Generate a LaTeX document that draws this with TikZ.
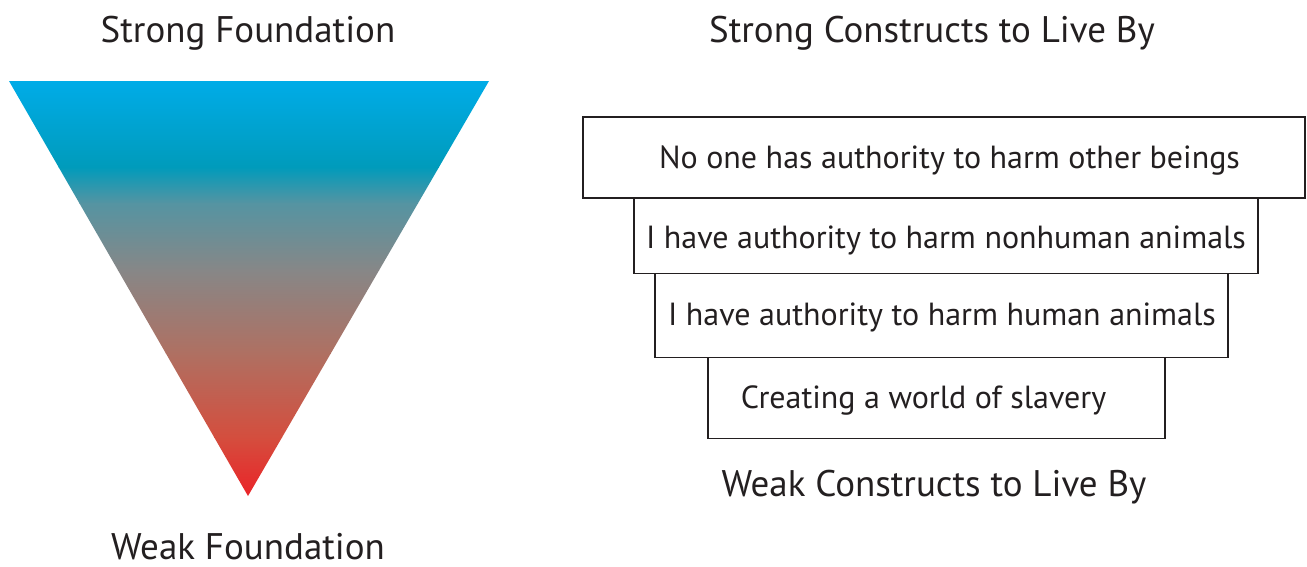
\documentclass[tikz,border=0pt]{standalone}
\usepackage{fontspec}
\setmainfont{PT Sans}
\definecolor{ink}{RGB}{35,31,32}
\definecolor{g0}{RGB}{0,172,232}
\definecolor{g1}{RGB}{0,155,187}
\definecolor{g2}{RGB}{85,148,162}
\definecolor{g3}{RGB}{135,135,135}
\definecolor{g4}{RGB}{175,112,98}
\definecolor{g5}{RGB}{212,78,62}
\definecolor{g6}{RGB}{235,35,40}
\tikzset{
  title/.style={font=\fontsize{37}{42}\selectfont, text=ink, inner sep=0pt, anchor=base},
  boxtext/.style={font=\fontsize{32}{36}\selectfont, text=ink, inner sep=0pt, anchor=base},
  stepbox/.style={draw=ink, line width=1.3pt, rectangle, inner sep=0pt},
}
\begin{document}
\begin{tikzpicture}[x=1pt,y=-1pt]
\useasboundingbox (0,0) rectangle (1307,566);
% triangle with gradient
\begin{scope}
\clip (9,81) -- (489,81) -- (248,496) -- cycle;
\shade[top color=g0,bottom color=g1] (0,80) rectangle (500,167.5);
\shade[top color=g1,bottom color=g2] (0,167) rectangle (500,203.5);
\shade[top color=g2,bottom color=g3] (0,203) rectangle (500,270.5);
\shade[top color=g3,bottom color=g4] (0,270) rectangle (500,353.5);
\shade[top color=g4,bottom color=g5] (0,353) rectangle (500,437.5);
\shade[top color=g5,bottom color=g6] (0,437) rectangle (500,497);
\end{scope}
\node[title] (sf) at (248,42) {Strong Foundation};
\node[title, text depth=0pt] (wf) at (248,559) {Weak Foundation};
\node[title] (sc) at (932,42) {Strong Constructs to Live By};
\node[title] (wc) at (934,496) {Weak Constructs to Live By};
% boxes
\node[stepbox, minimum width=722pt, minimum height=81pt] (b1) at (944,157.5) {};
\node[stepbox, minimum width=624pt, minimum height=75pt] (b2) at (946,236) {};
\node[stepbox, minimum width=573pt, minimum height=84pt] (b3) at (941.5,315.5) {};
\node[stepbox, minimum width=457pt, minimum height=81pt] (b4) at (936.5,398) {};
\node[boxtext] (t1) at (949.5,168) {No one has authority to harm other beings};
\node[boxtext] (t2) at (946,248) {I have authority to harm nonhuman animals};
\node[boxtext] (t3) at (942,325) {I have authority to harm human animals};
\node[boxtext] (t4) at (923.5,408) {Creating a world of slavery};
\end{tikzpicture}
\end{document}
